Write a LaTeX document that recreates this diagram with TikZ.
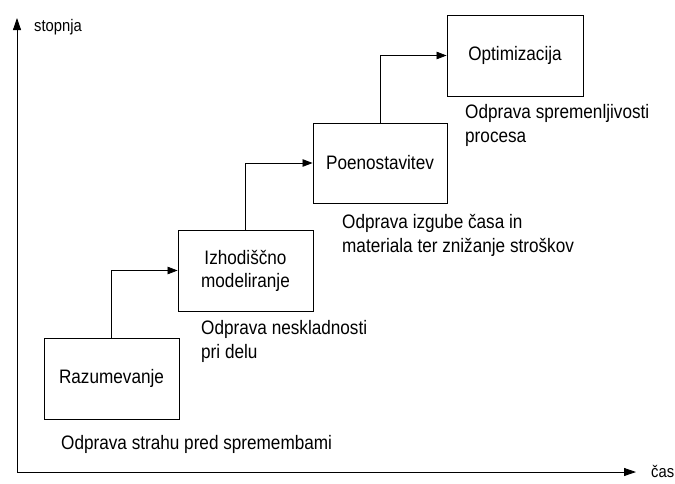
\documentclass[tikz,border=0pt]{standalone}
\usepackage{fontspec}
\setmainfont{Liberation Sans}[FakeStretch=0.88]
\usetikzlibrary{arrows.meta}
\begin{document}
\begin{tikzpicture}[x=1pt,y=-1pt,
  txt/.style={font=\fontsize{19.5}{24}\selectfont},
  stage/.style={draw=black,line width=0.9pt,minimum width=135pt,minimum height=81pt,
    inner sep=0pt,align=center,font=\fontsize{19.5}{23}\selectfont},
  note/.style={anchor=base west,inner sep=0pt,align=left,txt},
  axis/.style={line width=0.8pt,-{Triangle[length=12pt,width=8pt]}},
  link/.style={line width=0.8pt,-{Triangle[length=10pt,width=7.5pt]}},
  axlabel/.style={inner sep=0pt,anchor=base west,font=\fontsize{16.8}{20}\selectfont}]
\useasboundingbox (0,0) rectangle (675,483);

% axes
\coordinate (o) at (17,472);
\coordinate (ytop) at (17,18);
\coordinate (xend) at (636,472);
\draw[axis] (o) -- (ytop);
\draw[axis] (o) -- (xend);
\node[axlabel] (ylab) at (34,31) {stopnja};
\node[axlabel] (xlab) at (651,477) {čas};

% stages
\node[stage] (raz) at (111.5,378.5) {Razumevanje};
\node[stage] (izh) at (245.5,270.5) {Izhodiščno\\modeliranje};
\node[stage,minimum width=134pt,minimum height=80pt] (poe) at (380,163) {Poenostavitev};
\node[stage,minimum width=136pt] (opt) at (515,55.5) {Optimizacija};

% step connectors
\draw[link] (raz.north) |- (izh.west);
\draw[link] (izh.north) |- (poe.west);
\draw[link] (poe.north) |- (opt.west);

% notes under each stage (anchored on the baseline of the last line)
\node[note] (n1) at (61,449) {Odprava strahu pred spremembami};
\node[note] (n2) at (201,358) {Odprava neskladnosti\\pri delu};
\node[note] (n3) at (342,252) {Odprava izgube časa in\\materiala ter znižanje stroškov};
\node[note] (n4) at (465,142) {Odprava spremenljivosti\\procesa};
\end{tikzpicture}
\end{document}
